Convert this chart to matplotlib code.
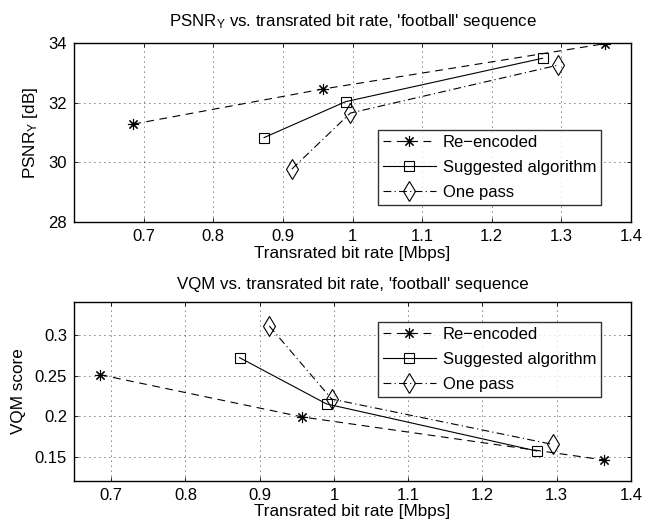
import matplotlib
matplotlib.use("Agg")
import matplotlib.pyplot as plt

plt.rcParams['font.family'] = ['Liberation Sans', 'DejaVu Sans']
plt.rcParams['mathtext.fontset'] = 'custom'
plt.rcParams['mathtext.rm'] = 'Liberation Sans'
plt.rcParams['mathtext.it'] = 'Liberation Sans'

# Data
bitrate_reenc = [0.685, 0.957, 1.363]
bitrate_sugg = [0.873, 0.990, 1.273]
bitrate_onepass = [0.913, 0.997, 1.295]

psnr_reenc = [31.28, 32.45, 33.97]
psnr_sugg = [30.83, 32.03, 33.48]
psnr_onepass = [29.78, 31.65, 33.25]

vqm_reenc = [0.251, 0.199, 0.146]
vqm_sugg = [0.272, 0.215, 0.157]
vqm_onepass = [0.311, 0.221, 0.165]

series_labels = ["Re\u2212encoded", "Suggested algorithm", "One pass"]
xticks = [0.7, 0.8, 0.9, 1.0, 1.1, 1.2, 1.3, 1.4]
xticklabels = ["0.7", "0.8", "0.9", "1", "1.1", "1.2", "1.3", "1.4"]
psnr_ticks = [28, 30, 32, 34]
vqm_ticks = [0.15, 0.2, 0.25, 0.3]
vqm_ticklabels = ["0.15", "0.2", "0.25", "0.3"]

W, H = 657, 529
fig = plt.figure(figsize=(W / 100, H / 100), dpi=100)

def px_axes(x0, y0, x1, y1):
    return fig.add_axes([x0 / W, 1 - y1 / H, (x1 - x0) / W, (y1 - y0) / H])

ax1 = px_axes(74, 42.7, 631, 222.3)
ax2 = px_axes(74, 301.7, 631, 481)

FS = 12
LFS = 12.3
TFS = 12.2
star = (8, 2, 0)

def style(ax):
    ax.tick_params(direction='in', length=3, width=0.6, top=True, right=True,
                   labelsize=FS, pad=5, colors='black')
    for s in ax.spines.values():
        s.set_linewidth(1.0)
    ax.grid(True, color='black', linestyle=(0, (1, 5)), linewidth=0.6)
    ax.set_axisbelow(True)

def plot_set(ax, ys):
    kw = dict(color='black', linewidth=0.8, markerfacecolor='none', markeredgecolor='black')
    ax.plot(bitrate_reenc, ys[0], linestyle=(0, (7, 5)), marker=star, markersize=8,
            markeredgewidth=0.8, label=series_labels[0], **kw)
    ax.plot(bitrate_sugg, ys[1], linestyle='-', marker='s', markersize=7,
            markeredgewidth=0.8, label=series_labels[1], **kw)
    ax.plot(bitrate_onepass, ys[2], linestyle=(0, (7, 3, 1, 3)), marker='d', markersize=10,
            markeredgewidth=0.8, label=series_labels[2], **kw)

def make_legend(ax, bbox):
    leg = ax.legend(loc='lower left', bbox_to_anchor=bbox, mode='expand',
                    fontsize=FS, frameon=True, fancybox=False, edgecolor='black',
                    handlelength=3.2, borderaxespad=0, labelspacing=0.6, handletextpad=0.4,
                    borderpad=0.3)
    leg.get_frame().set_linewidth(1.0)
    return leg

# Top
plot_set(ax1, [psnr_reenc, psnr_sugg, psnr_onepass])
ax1.set_xlim(0.6, 1.4)
ax1.set_ylim(28, 34)
ax1.set_xticks(xticks)
ax1.set_xticklabels(xticklabels)
ax1.set_yticks(psnr_ticks)
style(ax1)
ax1.set_title("PSNR$_\\mathrm{Y}$ vs. transrated bit rate, 'football' sequence", fontsize=TFS, pad=12)
ax1.set_xlabel("Transrated bit rate [Mbps]", fontsize=LFS, labelpad=1)
ax1.set_ylabel("PSNR$_\\mathrm{Y}$ [dB]", fontsize=LFS, labelpad=6)
make_legend(ax1, (0.545, 0.098, 0.401, 0.415))

# Bottom
plot_set(ax2, [vqm_reenc, vqm_sugg, vqm_onepass])
ax2.set_xlim(0.65, 1.4)
ax2.set_ylim(0.12, 0.341)
ax2.set_xticks(xticks)
ax2.set_xticklabels(xticklabels)
ax2.set_yticks(vqm_ticks)
ax2.set_yticklabels(vqm_ticklabels)
style(ax2)
ax2.set_title("VQM vs. transrated bit rate, 'football' sequence", fontsize=TFS, pad=9)
ax2.set_xlabel("Transrated bit rate [Mbps]", fontsize=LFS, labelpad=1)
ax2.set_ylabel("VQM score", fontsize=LFS, labelpad=6)
make_legend(ax2, (0.545, 0.47, 0.401, 0.432))

fig.savefig("out.png", dpi=100)
